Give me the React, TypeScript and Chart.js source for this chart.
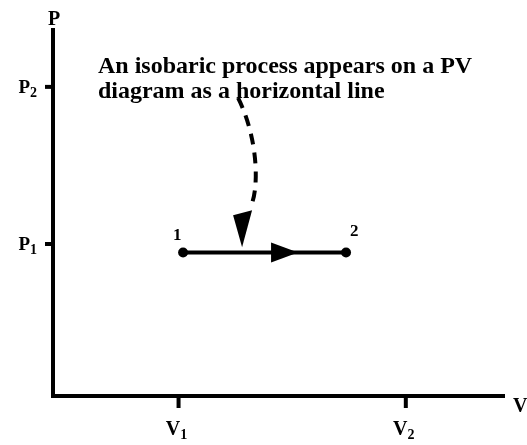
import { useEffect, useRef } from 'react';
import { Chart, registerables } from 'chart.js';

Chart.register(...registerables);

// Axis extents (arbitrary volume / pressure units)
const volumeMax = 18;
const pressureMax = 10;

// Tick positions with their subscript indices
const volumeTicks = [5.0, 14.05];
const volumeTickSubs = ['1', '2'];
const pressureTicks = [8.4, 4.13];
const pressureTickSubs = ['2', '1'];

// The isobaric process: state 1 -> state 2
const stateVolumes = [5.18, 11.67];
const statePressures = [3.9, 3.9];
const stateLabels = ['1', '2'];
const flowArrowTip = 9.76;

// Callout text and the dashed curve pointing at the process line
const calloutLines = ['An isobaric process appears on a PV', 'diagram as a horizontal line'];
const calloutAnchor = [1.79, 8.78];
const calloutVolumes = [7.37, 8.2, 8.2, 7.87, 7.53];
const calloutPressures = [8.1, 6.96, 5.6, 5.15, 4.04];

const SERIF = '"Liberation Serif", "Times New Roman", serif';

function drawSubscripted(
  ctx: CanvasRenderingContext2D,
  main: string,
  sub: string,
  x: number,
  y: number,
  mainSize: number,
  subSize: number,
) {
  ctx.font = `bold ${mainSize}px ${SERIF}`;
  ctx.textAlign = 'left';
  ctx.textBaseline = 'alphabetic';
  ctx.fillText(main, x, y);
  const w = ctx.measureText(main).width;
  ctx.font = `bold ${subSize}px ${SERIF}`;
  ctx.fillText(sub, x + w, y + 4);
}

function subscriptWidth(ctx: CanvasRenderingContext2D, main: string, sub: string, mainSize: number, subSize: number) {
  ctx.font = `bold ${mainSize}px ${SERIF}`;
  const a = ctx.measureText(main).width;
  ctx.font = `bold ${subSize}px ${SERIF}`;
  return a + ctx.measureText(sub).width;
}

const diagramPlugin = {
  id: 'pvDiagram',
  afterDatasetsDraw(chart: any) {
    const { ctx } = chart;
    const xs = chart.scales.x;
    const ys = chart.scales.y;
    const x0 = xs.getPixelForValue(0);
    const y0 = ys.getPixelForValue(0);
    const xEnd = xs.getPixelForValue(volumeMax);
    const yEnd = ys.getPixelForValue(pressureMax);

    ctx.save();
    ctx.strokeStyle = '#000';
    ctx.fillStyle = '#000';
    ctx.lineCap = 'butt';

    // Axes
    ctx.lineWidth = 4;
    ctx.beginPath();
    ctx.moveTo(x0, yEnd);
    ctx.lineTo(x0, y0 + 2);
    ctx.moveTo(x0 - 2, y0);
    ctx.lineTo(xEnd, y0);
    ctx.stroke();

    // Tick marks
    volumeTicks.forEach((v) => {
      const px = xs.getPixelForValue(v);
      ctx.beginPath();
      ctx.moveTo(px, y0);
      ctx.lineTo(px, y0 + 12);
      ctx.stroke();
    });
    pressureTicks.forEach((p) => {
      const py = ys.getPixelForValue(p);
      ctx.beginPath();
      ctx.moveTo(x0 - 8, py);
      ctx.lineTo(x0, py);
      ctx.stroke();
    });

    // Axis titles
    ctx.font = `bold 20px ${SERIF}`;
    ctx.textAlign = 'left';
    ctx.textBaseline = 'alphabetic';
    ctx.fillText('P', x0 - 5, yEnd - 3);
    ctx.fillText('V', xEnd + 8, y0 + 16);

    // Tick labels
    volumeTicks.forEach((v, i) => {
      const px = xs.getPixelForValue(v);
      const w = subscriptWidth(ctx, 'V', volumeTickSubs[i], 20, 14);
      drawSubscripted(ctx, 'V', volumeTickSubs[i], px - w / 2 - 2, y0 + 39, 20, 14);
    });
    pressureTicks.forEach((p, i) => {
      const py = ys.getPixelForValue(p);
      const w = subscriptWidth(ctx, 'P', pressureTickSubs[i], 19, 14);
      drawSubscripted(ctx, 'P', pressureTickSubs[i], x0 - 16 - w, py + 6, 19, 14);
    });

    // Direction arrow on the process line
    const ay = ys.getPixelForValue(statePressures[0]);
    const ax = xs.getPixelForValue(flowArrowTip);
    ctx.beginPath();
    ctx.moveTo(ax, ay);
    ctx.lineTo(ax - 27, ay - 10);
    ctx.lineTo(ax - 27, ay + 10);
    ctx.closePath();
    ctx.fill();

    // State labels
    ctx.font = `bold 17px ${SERIF}`;
    stateVolumes.forEach((v, i) => {
      const px = xs.getPixelForValue(v);
      const py = ys.getPixelForValue(statePressures[i]);
      if (i === 0) ctx.fillText(stateLabels[i], px - 10, py - 12);
      else ctx.fillText(stateLabels[i], px + 4, py - 16);
    });

    // Callout text
    ctx.font = `bold 24px ${SERIF}`;
    const tx = xs.getPixelForValue(calloutAnchor[0]);
    const ty = ys.getPixelForValue(calloutAnchor[1]);
    calloutLines.forEach((line, i) => ctx.fillText(line, tx, ty + i * 25));

    // Dashed callout curve
    const pts = calloutVolumes.map((v, i) => [xs.getPixelForValue(v), ys.getPixelForValue(calloutPressures[i])]);
    ctx.lineWidth = 4;
    ctx.setLineDash([11, 8]);
    ctx.beginPath();
    ctx.moveTo(pts[0][0], pts[0][1]);
    ctx.bezierCurveTo(pts[1][0], pts[1][1], pts[2][0], pts[2][1], pts[3][0], pts[3][1]);
    ctx.stroke();
    ctx.setLineDash([]);

    // Arrow head of the callout
    const [tipX, tipY] = pts[4];
    ctx.beginPath();
    ctx.moveTo(tipX, tipY);
    ctx.lineTo(tipX - 9, tipY - 32);
    ctx.lineTo(tipX + 10, tipY - 37);
    ctx.closePath();
    ctx.fill();

    ctx.restore();
  },
};

export default function App() {
  const canvasRef = useRef<HTMLCanvasElement | null>(null);

  useEffect(() => {
    if (!canvasRef.current) return;
    const chart = new Chart(canvasRef.current, {
      type: 'scatter',
      data: {
        datasets: [
          {
            data: stateVolumes.map((v, i) => ({ x: v, y: statePressures[i] })),
            showLine: true,
            borderColor: '#000',
            backgroundColor: '#000',
            borderWidth: 4,
            pointRadius: 5,
            pointBorderWidth: 0,
          },
        ],
      },
      options: {
        animation: false,
        responsive: false,
        events: [],
        layout: { padding: { left: 53, right: 22, top: 28, bottom: 49 } },
        plugins: { legend: { display: false }, tooltip: { enabled: false } },
        scales: {
          x: { type: 'linear', min: 0, max: volumeMax, display: false },
          y: { type: 'linear', min: 0, max: pressureMax, display: false },
        },
      },
      plugins: [diagramPlugin],
    });
    return () => chart.destroy();
  }, []);

  return (
    <div style={{ position: 'fixed', left: 0, top: 0, width: 527, height: 445, background: '#fff' }}>
      <canvas ref={canvasRef} width={527} height={445} />
    </div>
  );
}
